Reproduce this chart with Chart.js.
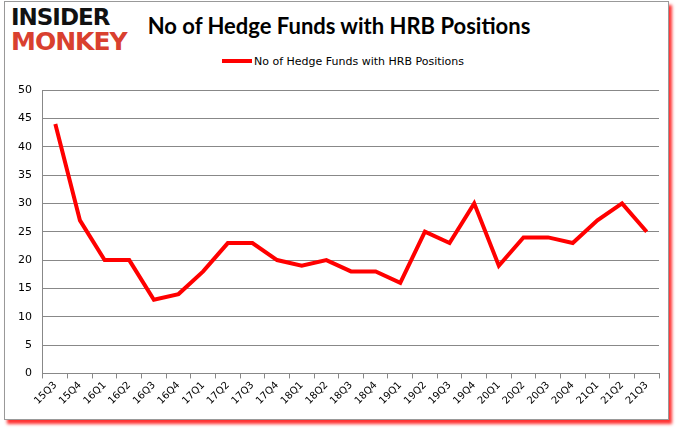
<!DOCTYPE html>
<html>
<head>
<meta charset="utf-8">
<script src="https://cdn.jsdelivr.net/npm/chart.js@4.4.0/dist/chart.umd.min.js"></script>
<style>
  html, body { margin: 0; padding: 0; background: #fff; }
  #wrap { position: relative; width: 678px; height: 431px; overflow: hidden; }
  #frame { position: absolute; left: 4px; top: 1px; width: 663px; height: 417px;
           border: 1px solid #999; box-shadow: 3px 4px 3px #f33; background: #fff; }
  #logo { position: absolute; left: 11px; top: 6px; font-family: "DejaVu Sans", sans-serif;
          font-weight: bold; line-height: 1; letter-spacing: -1px; }
  #logo .a { color: #111; font-size: 23px; }
  #logo .b { color: #d9402f; font-size: 25px; }
  #titulo { position: absolute; left: 0; width: 678px; top: 12px; text-align: center;
            font-family: Lato, sans-serif; font-weight: bold; font-size: 22px; color: #000; }
  #legenda { position: absolute; left: 222px; top: 55px; font-family: "DejaVu Sans", sans-serif;
             font-size: 11px; color: #000; }
  #legenda span { display: inline-block; width: 30px; height: 4px; background: #f00;
                  vertical-align: middle; margin-right: 2px; position: relative; top: -1px; }
  canvas { position: absolute; left: 0; top: 0; }
</style>
</head>
<body>
<div id="wrap">
  <div id="frame"></div>
  <div id="logo"><div class="a">INSIDER</div><div class="b">MONKEY</div></div>
  <div id="titulo"></div>
  <div id="legenda"><span></span><b style="font-weight:normal" id="legTxt"></b></div>
  <canvas id="grafico" width="678" height="431"></canvas>
</div>
<script>
// dados do gráfico
const categorias = ['15Q3','15Q4','16Q1','16Q2','16Q3','16Q4','17Q1','17Q2','17Q3','17Q4',
  '18Q1','18Q2','18Q3','18Q4','19Q1','19Q2','19Q3','19Q4','20Q1','20Q2','20Q3','20Q4',
  '21Q1','21Q2','21Q3'];
const fundos = [44, 27, 20, 20, 13, 14, 18, 23, 23, 20, 19, 20, 18, 18, 16, 25, 23, 30,
  19, 24, 24, 23, 27, 30, 25];
const serieNome = 'No of Hedge Funds with HRB Positions';
const tituloTexto = 'No of Hedge Funds with HRB Positions';

document.getElementById('titulo').textContent = tituloTexto;
document.getElementById('legTxt').textContent = serieNome;

new Chart(document.getElementById('grafico'), {
    type: 'line',
    data: {
        labels: categorias,
        datasets: [{
            label: serieNome,
            data: fundos,
            borderColor: '#ff0000',
            backgroundColor: '#ff0000',
            borderWidth: 4,
            pointRadius: 0,
            tension: 0,
            fill: false,
        }]
    },
    options: {
        responsive: false,
        animation: false,
        layout: { padding: { left: 7, right: 19, top: 90, bottom: 23 } },
        plugins: {
            legend: { display: false },
            tooltip: { enabled: false }
        },
        scales: {
            x: {
                offset: true,
                grid: { offset: true, drawOnChartArea: false, color: '#888', tickLength: 5 },
                border: { color: '#888' },
                ticks: { color: '#000', maxRotation: 45, minRotation: 45, autoSkip: false,
                         font: { family: 'DejaVu Sans', size: 10 }, padding: 1 }
            },
            y: {
                min: 0, max: 50,
                ticks: { stepSize: 5, color: '#000', font: { family: 'DejaVu Sans', size: 11 }, padding: 11 },
                grid: { color: '#888', drawTicks: false },
                border: { color: '#888' }
            }
        }
    }
});
</script>
</body>
</html>
